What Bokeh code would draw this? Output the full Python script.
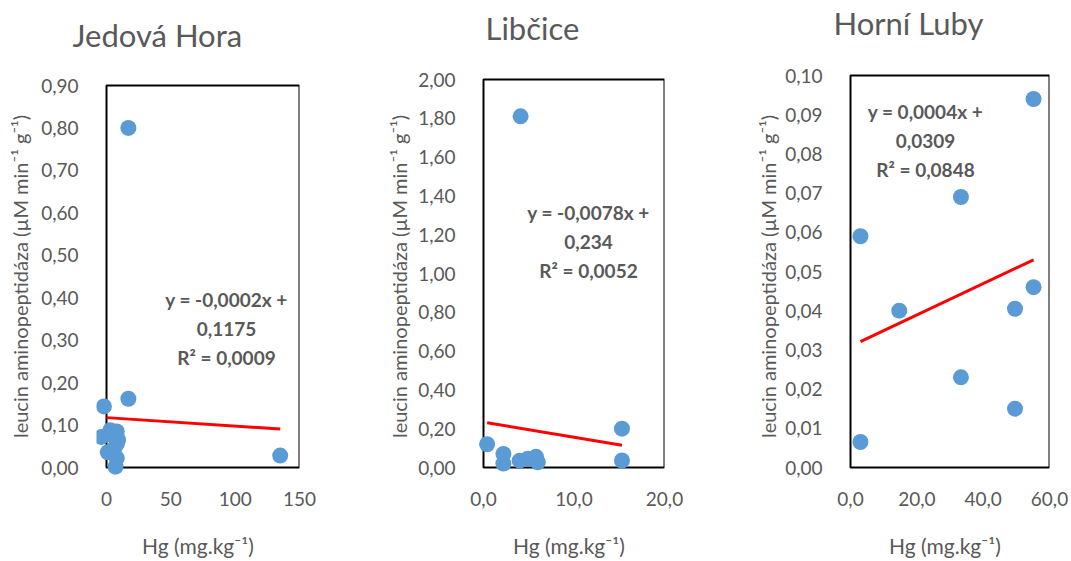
from bokeh.plotting import figure
from bokeh.layouts import row, column
from bokeh.models import Range1d, FixedTicker, Label, BoxAnnotation
from bokeh.embed import file_html
from bokeh.resources import INLINE

# ---------------- data ----------------
titles = ["Jedová Hora", "Libčice", "Horní Luby"]
y_title = "leucin aminopeptidáza (µM min⁻¹ g⁻¹)"
x_title = "Hg (mg.kg⁻¹)"

# Jedová Hora
hg_jh = [17, 17, -2, 135, -4, 3, 8, 1, 8, 8, 7, 9, 5, 6]
lap_jh = [0.80, 0.162, 0.144, 0.028, 0.072, 0.088, 0.085, 0.036, 0.055, 0.022, 0.002, 0.065, 0.075, 0.045]
# Libčice
hg_lb = [4.1, 0.4, 2.2, 2.2, 4.0, 4.9, 5.8, 6.0, 15.3, 15.3]
lap_lb = [1.81, 0.12, 0.07, 0.02, 0.035, 0.045, 0.055, 0.027, 0.20, 0.036]
# Horní Luby
hg_hl = [3.0, 3.0, 14.7, 33.3, 33.3, 49.6, 49.6, 55.2, 55.2]
lap_hl = [0.0065, 0.059, 0.040, 0.069, 0.023, 0.0405, 0.015, 0.046, 0.094]

# trend lines (slope, intercept, R2) as printed
slopes = [-0.0002, -0.0078, 0.0004]
intercepts = [0.1175, 0.234, 0.0309]
r2 = ["0,0009", "0,0052", "0,0848"]
slope_txt = ["-0,0002", "-0,0078", "0,0004"]
icpt_txt = ["0,1175", "0,234", "0,0309"]

# ticks
x_ticks = [[0, 50, 100, 150], [0, 10, 20], [0, 20, 40, 60]]
x_tick_labels = [["0", "50", "100", "150"], ["0,0", "10,0", "20,0"], ["0,0", "20,0", "40,0", "60,0"]]
y_ticks = [[round(0.1 * i, 2) for i in range(10)],
           [round(0.2 * i, 2) for i in range(11)],
           [round(0.01 * i, 2) for i in range(11)]]
y_tick_labels = [["0,00", "0,10", "0,20", "0,30", "0,40", "0,50", "0,60", "0,70", "0,80", "0,90"],
                 ["0,00", "0,20", "0,40", "0,60", "0,80", "1,00", "1,20", "1,40", "1,60", "1,80", "2,00"],
                 ["0,00", "0,01", "0,02", "0,03", "0,04", "0,05", "0,06", "0,07", "0,08", "0,09", "0,10"]]
x_bounds = [(0, 150), (0, 20), (0, 60)]
y_bounds = [(0, 0.9), (0, 2.0), (0, 0.1)]

# ---------------- style / layout ----------------
GREY = "#595959"
BLUE = "#5B9BD5"
FONT = "Lato"
W, H = 1071, 561
TH = 56           # height of the strip holding the panel titles (frames start right below)
PAD_L = 10        # room (px) left of the box so markers are not cut
PAD_B = 29        # room (px) below the box (also centres the y-axis titles)
BOX_BOTTOM = 467  # page y of the boxes' bottom edge
FRAME_BOTTOM = BOX_BOTTOM + PAD_B

layout_cfg = [
    dict(fx=0, width=370, bl=106, br=299, bt=85, ylab_st=6,
         title_px=(72, 34), eq_px=(226, 328)),
    dict(fx=370, width=360, bl=483, br=664, bt=79, ylab_st=4,
         title_px=(485, 27), eq_px=(588, 241)),
    dict(fx=730, width=341, bl=850, br=1049, bt=75, ylab_st=2,
         title_px=(833, 22), eq_px=(925, 140)),
]
data = [(hg_jh, lap_jh), (hg_lb, lap_lb), (hg_hl, lap_hl)]

# title strip (pixel coordinates)
tfig = figure(width=W, height=TH, output_backend="svg", toolbar_location=None,
              title_location=None,
              x_range=Range1d(0, W), y_range=Range1d(TH, 0),
              x_axis_type=None, y_axis_type=None, min_border=0)
tfig.grid.visible = False
tfig.outline_line_color = None
for i in range(3):
    tx, ty = layout_cfg[i]["title_px"]
    tfig.add_layout(Label(x=tx, y=ty, text=titles[i], text_align="left",
                          text_baseline="middle", text_font=FONT,
                          text_font_size="31px", text_color=GREY))

figs = []
for i in range(3):
    c = layout_cfg[i]
    xs, ys = data[i]
    (xa, xb), (ya, yb) = x_bounds[i], y_bounds[i]
    box_w = c["br"] - c["bl"]
    box_h = BOX_BOTTOM - c["bt"]
    kx = (xb - xa) / box_w
    ky = (yb - ya) / box_h
    pad_top = c["bt"] - TH
    xr = Range1d(xa - PAD_L * kx, xb)
    yr = Range1d(ya - PAD_B * ky, yb + pad_top * ky)

    def to_data(sx, sy):
        return xa + (sx - c["bl"]) * kx, ya + (BOX_BOTTOM - sy) * ky

    p = figure(width=c["width"], height=H - TH, output_backend="svg", toolbar_location=None,
               title_location=None, x_range=xr, y_range=yr,
               min_border_left=c["bl"] - PAD_L - c["fx"],
               min_border_right=c["fx"] + c["width"] - c["br"],
               min_border_top=0, min_border_bottom=H - FRAME_BOTTOM)
    p.grid.visible = False
    p.outline_line_color = None
    p.background_fill_color = "white"
    p.border_fill_color = "white"

    # the black plot-area box
    p.add_layout(BoxAnnotation(left=xa, right=xb, bottom=ya, top=yb, fill_color=None,
                               fill_alpha=0, line_color="black", line_alpha=1.0,
                               line_width=2, level="underlay", editable=False))

    for ax in (p.xaxis[0], p.yaxis[0]):
        ax.axis_line_color = None
        ax.major_tick_line_color = None
        ax.minor_tick_line_color = None
        ax.major_label_text_font = FONT
        ax.major_label_text_font_size = "19px"
        ax.major_label_text_color = GREY
        ax.axis_label_text_font = FONT
        ax.axis_label_text_font_style = "normal"
        ax.axis_label_text_color = GREY
    p.xaxis.axis_label_text_font_size = "21px"
    p.yaxis.axis_label_text_font_size = "20px"

    p.xaxis.ticker = FixedTicker(ticks=x_ticks[i])
    p.xaxis.major_label_overrides = {t: l for t, l in zip(x_ticks[i], x_tick_labels[i])}
    p.yaxis.ticker = FixedTicker(ticks=y_ticks[i])
    p.yaxis.major_label_overrides = {t: l for t, l in zip(y_ticks[i], y_tick_labels[i])}
    p.xaxis.axis_label = x_title
    p.yaxis.axis_label = y_title
    p.xaxis.major_label_standoff = 18 - PAD_B
    p.xaxis.axis_label_standoff = 24
    p.yaxis.major_label_standoff = 12
    p.yaxis.axis_label_standoff = c["ylab_st"]

    # regression line
    lx = [max(min(xs), xa), max(xs)]
    ly = [slopes[i] * v + intercepts[i] for v in lx]
    p.line(lx, ly, line_color="#FF0000", line_width=3)

    p.scatter(xs, ys, size=16, fill_color=BLUE, line_color=None)

    # equation label
    ex, ey = to_data(*c["eq_px"])
    eq = f"y = {slope_txt[i]}x +\n{icpt_txt[i]}\nR² = {r2[i]}"
    p.add_layout(Label(x=ex, y=ey, text=eq, text_align="center",
                       text_baseline="middle", text_font=FONT, text_font_size="19px",
                       text_font_style="bold", text_color=GREY, text_line_height=1.27))
    figs.append(p)

layout = column(tfig, row(*figs))
open("out.html", "w").write(file_html(layout, INLINE))
